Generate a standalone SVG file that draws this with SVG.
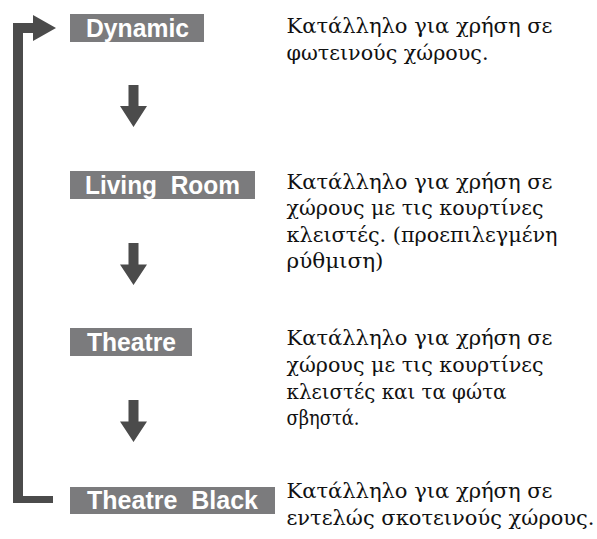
<svg xmlns="http://www.w3.org/2000/svg" width="597" height="539" viewBox="0 0 597 539">
<style>
.box{fill:#7b7b7d}
.lbl{font-family:"Liberation Sans",Arial,sans-serif;font-size:26px;font-weight:bold;fill:#ffffff}
.desc{font-family:"DejaVu Serif","Liberation Serif",serif;font-size:21px;fill:#111111}
.conn{fill:#4b4b4b}
</style>
<rect width="597" height="539" fill="#ffffff"/>
<g id="connectors">
<path class="conn" d="M13,23 H33 V15 L56,28 L33,41 V33 H23 V496 H53 V503 H13 Z"/>
<path class="conn" d="M128.5,85 H138.5 V106 H147 L133.5,127 L120,106 H128.5 Z"/>
<path class="conn" d="M128.5,243 H138.5 V264.5 H147 L133.5,285 L120,264.5 H128.5 Z"/>
<path class="conn" d="M128.5,400 H138.5 V421.5 H147 L133.5,442 L120,421.5 H128.5 Z"/>
</g>
<g id="dynamic">
<rect class="box" x="70" y="14" width="134" height="28"/>
<text class="lbl" x="86" y="36.5" textLength="103" lengthAdjust="spacingAndGlyphs">Dynamic</text>
<text class="desc" x="286.5" y="33" textLength="266" lengthAdjust="spacingAndGlyphs">Κατάλληλο για χρήση σε</text>
<text class="desc" x="286.5" y="60" textLength="202" lengthAdjust="spacingAndGlyphs">φωτεινούς χώρους.</text>
</g>
<g id="living-room">
<rect class="box" x="70" y="171" width="185" height="28"/>
<text class="lbl" x="85" y="193.5" xml:space="preserve" textLength="155" lengthAdjust="spacingAndGlyphs">Living  Room</text>
<text class="desc" x="286.5" y="188.5" textLength="266" lengthAdjust="spacingAndGlyphs">Κατάλληλο για χρήση σε</text>
<text class="desc" x="286.5" y="215" textLength="257" lengthAdjust="spacingAndGlyphs">χώρους με τις κουρτίνες</text>
<text class="desc" x="286.5" y="241.5" textLength="271" lengthAdjust="spacingAndGlyphs">κλειστές. (προεπιλεγμένη</text>
<text class="desc" x="286.5" y="268" textLength="97" lengthAdjust="spacingAndGlyphs">ρύθμιση)</text>
</g>
<g id="theatre">
<rect class="box" x="70" y="328" width="122" height="28"/>
<text class="lbl" x="87" y="350.5" textLength="89" lengthAdjust="spacingAndGlyphs">Theatre</text>
<text class="desc" x="286.5" y="345" textLength="266" lengthAdjust="spacingAndGlyphs">Κατάλληλο για χρήση σε</text>
<text class="desc" x="286.5" y="372" textLength="257" lengthAdjust="spacingAndGlyphs">χώρους με τις κουρτίνες</text>
<text class="desc" x="286.5" y="398.5" textLength="220" lengthAdjust="spacingAndGlyphs">κλειστές και τα φώτα</text>
<text class="desc" x="286.5" y="425" textLength="73" lengthAdjust="spacingAndGlyphs">σβηστά.</text>
</g>
<g id="theatre-black">
<rect class="box" x="70" y="487" width="205" height="27"/>
<text class="lbl" x="87" y="509" xml:space="preserve" textLength="171" lengthAdjust="spacingAndGlyphs">Theatre  Black</text>
<text class="desc" x="286.5" y="498" textLength="266" lengthAdjust="spacingAndGlyphs">Κατάλληλο για χρήση σε</text>
<text class="desc" x="286.5" y="525" textLength="308" lengthAdjust="spacingAndGlyphs">εντελώς σκοτεινούς χώρους.</text>
</g>
</svg>
